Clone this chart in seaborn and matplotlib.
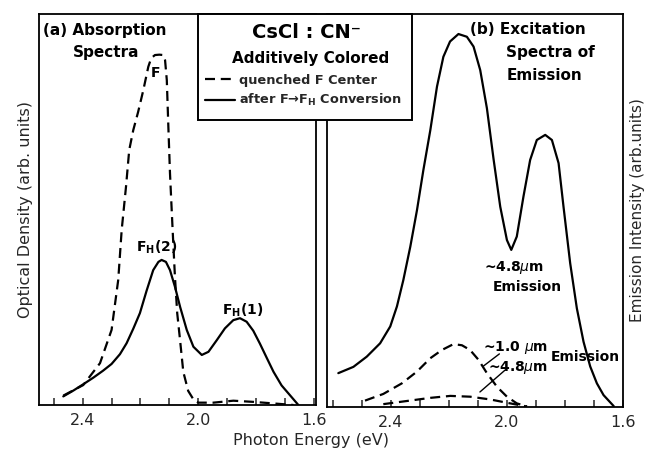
import matplotlib
matplotlib.use("Agg")
import matplotlib.pyplot as plt
from matplotlib.patches import Rectangle
from matplotlib.ticker import FixedLocator, MultipleLocator
import seaborn as sns
import pandas as pd

# ---------------- data ----------------
# (a) Absorption spectra: quenched F center (dashed)
abs_f_ev = [2.467, 2.398, 2.340, 2.300, 2.277, 2.265, 2.250, 2.239, 2.225, 2.208,
            2.190, 2.173, 2.163, 2.150, 2.135, 2.121, 2.115, 2.109, 2.104, 2.098,
            2.089, 2.081, 2.073, 2.063, 2.052, 2.035, 2.015, 2.000, 1.948, 1.879,
            1.810, 1.740, 1.671]
abs_f_od = [0.024, 0.051, 0.107, 0.192, 0.320, 0.448, 0.559, 0.652, 0.703, 0.750,
            0.806, 0.865, 0.887, 0.895, 0.896, 0.895, 0.882, 0.831, 0.720, 0.593,
            0.450, 0.330, 0.235, 0.165, 0.085, 0.036, 0.012, 0.006, 0.006, 0.011,
            0.008, 0.004, 0.000]
# (a) Absorption spectra: after F -> F_H conversion (solid)
abs_fh_ev = [2.467, 2.432, 2.398, 2.363, 2.329, 2.300, 2.271, 2.248, 2.225, 2.202,
             2.179, 2.156, 2.138, 2.127, 2.112, 2.098, 2.081, 2.063, 2.040, 2.017,
             1.988, 1.965, 1.936, 1.908, 1.879, 1.856, 1.833, 1.810, 1.787, 1.763,
             1.740, 1.712, 1.683, 1.654]
abs_fh_od = [0.022, 0.037, 0.053, 0.070, 0.088, 0.105, 0.130, 0.158, 0.195, 0.235,
             0.292, 0.345, 0.366, 0.371, 0.366, 0.345, 0.303, 0.251, 0.192, 0.149,
             0.128, 0.136, 0.166, 0.196, 0.217, 0.222, 0.213, 0.190, 0.157, 0.120,
             0.085, 0.050, 0.025, 0.000]
# (b) Excitation spectrum of ~4.8 um emission after conversion (solid)
exc_fh_ev = [2.581, 2.529, 2.483, 2.437, 2.402, 2.379, 2.357, 2.333, 2.310, 2.288,
             2.264, 2.241, 2.219, 2.196, 2.167, 2.138, 2.115, 2.092, 2.069, 2.046,
             2.023, 2.000, 1.985, 1.966, 1.943, 1.920, 1.897, 1.868, 1.845, 1.822,
             1.805, 1.782, 1.759, 1.736, 1.713, 1.690, 1.667, 1.632]
exc_fh_int = [0.085, 0.101, 0.127, 0.161, 0.204, 0.255, 0.322, 0.407, 0.500, 0.602,
              0.704, 0.815, 0.891, 0.930, 0.949, 0.942, 0.917, 0.857, 0.760, 0.630,
              0.509, 0.424, 0.399, 0.433, 0.535, 0.628, 0.679, 0.692, 0.679, 0.620,
              0.509, 0.365, 0.250, 0.165, 0.102, 0.059, 0.029, 0.001]
# (b) quenched F center: ~1.0 um emission (dashed)
exc_f10_ev = [2.489, 2.426, 2.362, 2.310, 2.264, 2.224, 2.184, 2.155, 2.127, 2.098,
              2.069, 2.034, 2.000, 1.966, 1.931]
exc_f10_int = [0.015, 0.032, 0.059, 0.089, 0.123, 0.144, 0.159, 0.156, 0.144, 0.119,
               0.085, 0.050, 0.025, 0.008, 0.000]
# (b) quenched F center: ~4.8 um emission (dashed)
exc_f48_ev = [2.426, 2.345, 2.264, 2.195, 2.127, 2.058, 1.989, 1.931]
exc_f48_int = [0.006, 0.014, 0.022, 0.027, 0.025, 0.018, 0.008, 0.000]

series_labels = ["quenched F Center", "after F\u2192F$_{\\mathbf{H}}$ Conversion"]
xtick_values = [2.4, 2.0, 1.6]
xtick_labels = ["2.4", "2.0", "1.6"]

# ---------------- figure ----------------
sns.set_style("ticks")
plt.rcParams["font.family"] = ["DejaVu Sans"]
plt.rcParams["mathtext.fontset"] = "dejavusans"

W, H = 650, 453
fig = plt.figure(figsize=(W / 100, H / 100), dpi=100)
fig.patch.set_facecolor("white")


def fx(px):
    return px / W


def fy(py):
    return 1 - py / H


axA = fig.add_axes([fx(39), fy(405), 277 / W, 391 / H])
axB = fig.add_axes([fx(327), fy(406.5), 296 / W, 392.5 / H])

DASH = (0, (4.5, 2.6))
LW = 1.6
common = dict(sort=False, estimator=None, color="black", lw=LW,
              solid_joinstyle="round", dash_joinstyle="round")

dfa_f = pd.DataFrame({"ev": abs_f_ev, "od": abs_f_od})
dfa_h = pd.DataFrame({"ev": abs_fh_ev, "od": abs_fh_od})
sns.lineplot(data=dfa_f, x="ev", y="od", ax=axA, linestyle=DASH,
             label=series_labels[0], **common)
sns.lineplot(data=dfa_h, x="ev", y="od", ax=axA, label=series_labels[1], **common)

dfb_h = pd.DataFrame({"ev": exc_fh_ev, "i": exc_fh_int})
dfb_10 = pd.DataFrame({"ev": exc_f10_ev, "i": exc_f10_int})
dfb_48 = pd.DataFrame({"ev": exc_f48_ev, "i": exc_f48_int})
sns.lineplot(data=dfb_h, x="ev", y="i", ax=axB, **common)
sns.lineplot(data=dfb_10, x="ev", y="i", ax=axB, linestyle=DASH, **common)
sns.lineplot(data=dfb_48, x="ev", y="i", ax=axB, linestyle=DASH, **common)

handles, labels = axA.get_legend_handles_labels()
axA.get_legend().remove()

axA.set_xlim(2.551, 1.593)
axB.set_xlim(2.62, 1.60)
for ax in (axA, axB):
    ax.set_ylim(0, 1)
    ax.set_yticks([])
    ax.set_xlabel("")
    ax.set_ylabel("")
    ax.xaxis.set_major_locator(FixedLocator(xtick_values))
    ax.set_xticklabels(xtick_labels)
    ax.xaxis.set_minor_locator(MultipleLocator(0.1))
    ax.tick_params(axis="x", which="both", direction="in", length=5, width=1.1,
                   labelsize=11.5, pad=6, bottom=True, top=False)
    for s in ax.spines.values():
        s.set_visible(True)
        s.set_linewidth(1.3)
        s.set_color("black")

axA.set_ylabel("Optical Density (arb. units)", fontsize=11.5, labelpad=4)
axB.yaxis.set_label_position("right")
axB.set_ylabel("Emission Intensity (arb.units)", fontsize=11, labelpad=5,
               rotation=90)
fig.text(fx(311), fy(440), "Photon Energy (eV)", fontsize=11.5,
         ha="center", va="center")

BF = dict(fontweight="bold", color="black")
# panel (a) annotations
fig.text(fx(43), fy(30), "(a) Absorption", fontsize=11, ha="left", va="center", **BF)
fig.text(fx(106), fy(53), "Spectra", fontsize=11, ha="center", va="center", **BF)
fig.text(fx(156), fy(73), "F", fontsize=10, ha="center", va="center", **BF)
fig.text(fx(157), fy(247), "F$_{\\mathbf{H}}$(2)", fontsize=10, ha="center", va="center", **BF)
fig.text(fx(243), fy(310), "F$_{\\mathbf{H}}$(1)", fontsize=10, ha="center", va="center", **BF)
# panel (b) annotations
fig.text(fx(470), fy(30), "(b) Excitation", fontsize=11, ha="left", va="center", **BF)
fig.text(fx(506), fy(52), "Spectra of", fontsize=11, ha="left", va="center", **BF)
fig.text(fx(507), fy(75), "Emission", fontsize=11, ha="left", va="center", **BF)
fig.text(fx(514), fy(268), "~4.8$\\mu$m", fontsize=10, ha="center", va="center", **BF)
fig.text(fx(527), fy(287), "Emission", fontsize=10, ha="center", va="center", **BF)
fig.text(fx(516), fy(347), "~1.0 $\\mu$m", fontsize=10, ha="center", va="center", **BF)
fig.text(fx(585), fy(357), "Emission", fontsize=10, ha="center", va="center", **BF)
fig.text(fx(518), fy(368), "~4.8$\\mu$m", fontsize=10, ha="center", va="center", **BF)
axB.annotate("", xy=(2.081, 0.103), xytext=(2.026, 0.134),
             arrowprops=dict(arrowstyle="-", color="black", lw=1.0, shrinkA=0, shrinkB=0))
axB.annotate("", xy=(2.093, 0.037), xytext=(2.006, 0.093),
             arrowprops=dict(arrowstyle="-", color="black", lw=1.0, shrinkA=0, shrinkB=0))

# central legend box
box = Rectangle((fx(198), fy(120)), (412 - 198) / W, (120 - 14) / H,
                transform=fig.transFigure, facecolor="white", edgecolor="black",
                lw=1.4, zorder=10)
fig.add_artist(box)
fig.text(fx(306), fy(33), "CsCl : CN\u207b", fontsize=14, ha="center", va="center",
         zorder=11, **BF)
fig.text(fx(311), fy(58), "Additively Colored", fontsize=11, ha="center",
         va="center", zorder=11, **BF)
leg = fig.legend(handles, labels, loc="upper left",
                 bbox_to_anchor=(fx(205), fy(74)), frameon=False,
                 prop=dict(size=9.3, weight="bold"), handlelength=2.3,
                 handletextpad=0.3, labelspacing=0.4, borderpad=0,
                 borderaxespad=0)
leg.set_zorder(12)

fig.savefig("out.png", dpi=100, facecolor="white")
